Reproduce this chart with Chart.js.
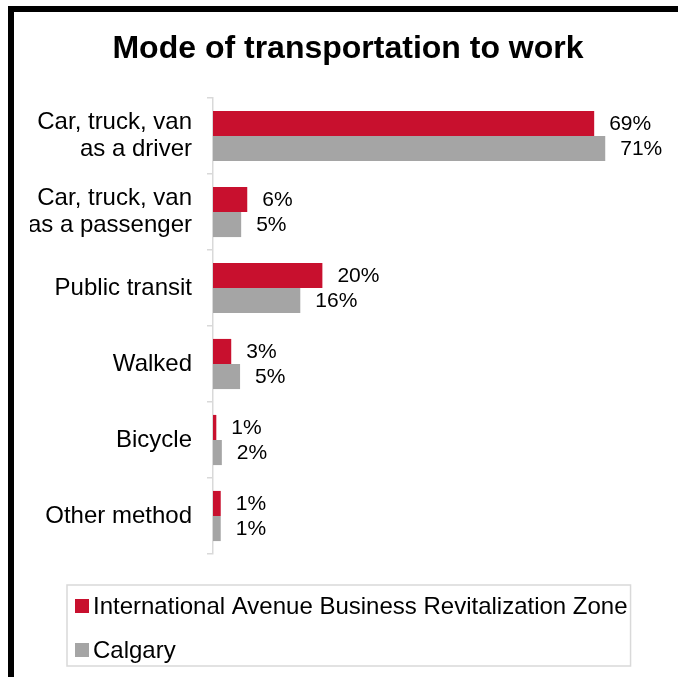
<!DOCTYPE html>
<html>
<head>
<meta charset="utf-8">
<script src="https://cdn.jsdelivr.net/npm/chart.js@4.4.0/dist/chart.umd.min.js"></script>
<style>
html,body{margin:0;padding:0;background:#fff;}
#frame{position:absolute;left:8px;top:6px;width:670px;height:671px;border-left:6px solid #000;border-top:6px solid #000;box-sizing:border-box;}
#wrap{position:absolute;left:0;top:0;width:678px;height:677px;}
canvas{display:block;}
</style>
</head>
<body>
<div id="frame"></div>
<div id="wrap"><canvas id="c" width="678" height="677"></canvas></div>
<script>
// ---- data ----
const titleText = "Mode of transportation to work";
const categories = [
  ["Car, truck, van", "as a driver"],
  ["Car, truck, van", "as a passenger"],
  "Public transit",
  "Walked",
  "Bicycle",
  "Other method"
];
const zoneValues    = [69, 6.2, 19.8, 3.3, 0.6, 1.4];
const calgaryValues = [71, 5.1, 15.8, 4.9, 1.6, 1.4];
const seriesNames   = ["International Avenue Business Revitalization Zone", "Calgary"];
const seriesColors  = ["#C8102E", "#A5A5A5"];

const FONT = '"Liberation Sans", Arial, Helvetica, sans-serif';

const valueLabels = {
  id: 'valueLabels',
  afterDatasetsDraw(chart) {
    const ctx = chart.ctx;
    ctx.save();
    ctx.font = '21px ' + FONT;
    ctx.fillStyle = '#000';
    ctx.textAlign = 'left';
    ctx.textBaseline = 'middle';
    chart.data.datasets.forEach((ds, i) => {
      chart.getDatasetMeta(i).data.forEach((bar, j) => {
        ctx.fillText(Math.round(ds.data[j]) + '%', bar.x + 15, bar.y + 1);
      });
    });
    ctx.restore();
  }
};

const boxLegend = {
  id: 'boxLegend',
  afterDraw(chart) {
    const ctx = chart.ctx;
    const ca = chart.chartArea;
    ctx.save();
    ctx.font = '24px ' + FONT;
    const boxX = 67, boxY = ca.bottom + 31;
    let maxW = 0;
    chart.data.datasets.forEach(ds => { maxW = Math.max(maxW, ctx.measureText(ds.label).width); });
    const boxW = 26 + maxW + 3, boxH = 81;
    ctx.strokeStyle = '#D9D9D9';
    ctx.lineWidth = 1.5;
    ctx.strokeRect(boxX, boxY, boxW, boxH);
    ctx.textAlign = 'left';
    ctx.textBaseline = 'middle';
    chart.data.datasets.forEach((ds, i) => {
      const cy = boxY + 21 + i * 44;
      ctx.fillStyle = ds.backgroundColor;
      ctx.fillRect(boxX + 8, cy - 7, 14, 14);
      ctx.fillStyle = '#000';
      ctx.fillText(ds.label, boxX + 26, cy + 1);
    });
    ctx.restore();
  }
};

new Chart(document.getElementById('c'), {
  type: 'bar',
  data: {
    labels: categories,
    datasets: [
      { label: seriesNames[0], data: zoneValues, backgroundColor: seriesColors[0], borderWidth: 0,
        categoryPercentage: 0.66, barPercentage: 1.0 },
      { label: seriesNames[1], data: calgaryValues, backgroundColor: seriesColors[1], borderWidth: 0,
        categoryPercentage: 0.66, barPercentage: 1.0 }
    ]
  },
  options: {
    indexAxis: 'y',
    responsive: false,
    animation: false,
    devicePixelRatio: 1,
    layout: { padding: { left: 30, right: 12, top: 12, bottom: 123 } },
    plugins: {
      legend: { display: false },
      tooltip: { enabled: false },
      title: {
        display: true,
        text: titleText,
        color: '#000',
        font: { family: FONT, size: 32, weight: 'bold' },
        padding: { top: 18, bottom: 29.6 }
      }
    },
    scales: {
      x: { display: false, min: 0, max: 82 },
      y: {
        offset: true,
        grid: { drawOnChartArea: false, drawTicks: true, tickLength: 6, color: '#D9D9D9', lineWidth: 1.5, offset: true },
        border: { display: true, color: '#D9D9D9', width: 1.5 },
        ticks: { color: '#000', font: { family: FONT, size: 24, lineHeight: 1.15 }, padding: 15 },
        afterFit(scale) { scale.width = 183; }
      }
    }
  },
  plugins: [valueLabels, boxLegend]
});
</script>
</body>
</html>
